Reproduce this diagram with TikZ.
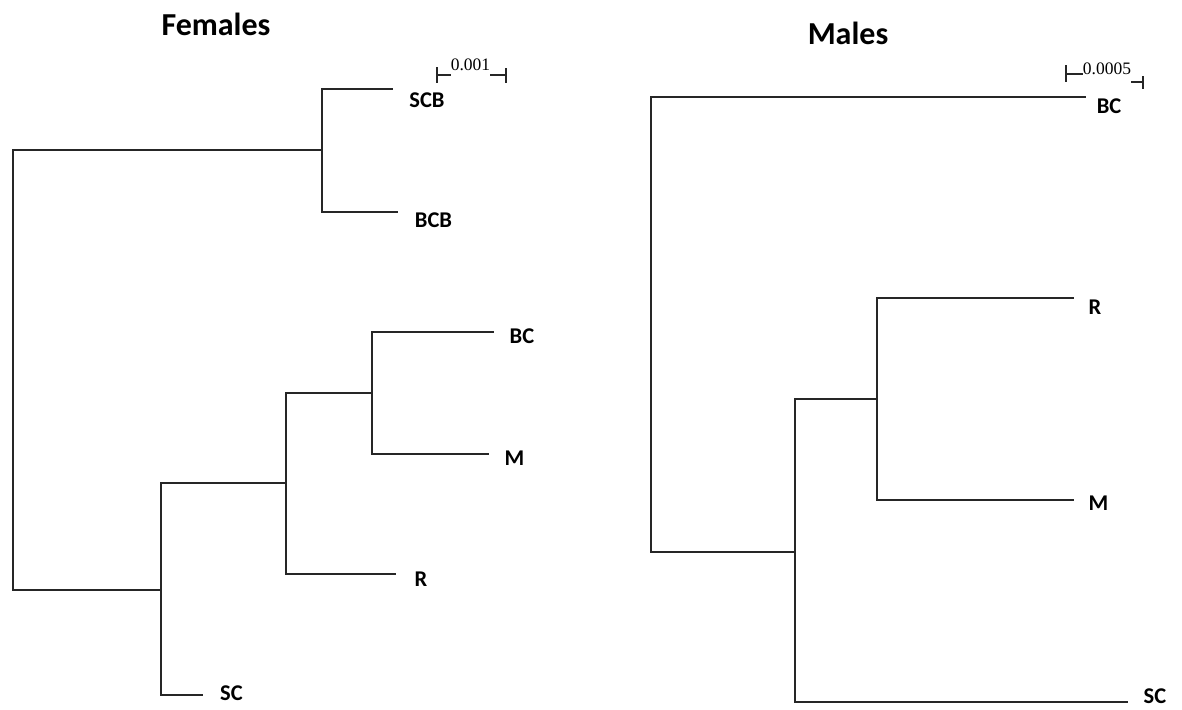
\documentclass[tikz,border=0pt]{standalone}
\usepackage{fontspec}
\setmainfont{Carlito}
\newfontfamily\barfont{Liberation Serif}
\tikzset{
  branch/.style={draw=black!85, line width=1.3pt, line cap=rect},
  tick/.style={draw=black!85, line width=1.1pt},
  leaf/.style={inner sep=0pt, font=\fontsize{22.5}{26}\selectfont\bfseries},
  heading/.style={inner sep=0pt, font=\fontsize{32}{38}\selectfont\bfseries},
  barlabel/.style={inner sep=0pt, anchor=base, font=\barfont\fontsize{17.5}{20}\selectfont},
}
\begin{document}
\begin{tikzpicture}[x=1pt, y=-1pt]
\useasboundingbox (0,0) rectangle (1182,709);

% ---------- Females ----------
\node[heading] (ftitle) at (216,24) {Females};

% scale bar
\node[barlabel] (fbar) at (470.5,70.5) {0.001};
\coordinate (fbarL) at (437,75);
\coordinate (fbarR) at (506,75);
\draw[tick] (437,67) -- (437,83);
\draw[tick] (fbarL) -- (fbar.west |- fbarL);
\draw[tick] (fbar.east |- fbarR) -- (fbarR);
\draw[tick] (506,68) -- (506,83);

% internal nodes
\coordinate (fr)  at (13,150);   % root (upper arm)
\coordinate (frb) at (13,590);   % root (lower arm)
\coordinate (f1)  at (322,150);
\coordinate (fA)  at (161,590);
\coordinate (fAt) at (161,483);
\coordinate (fB)  at (286,483);
\coordinate (fBt) at (286,393);
\coordinate (fC)  at (372,393);

% leaf ends
\coordinate (fSCBe) at (392,89);
\coordinate (fBCBe) at (397,212);
\coordinate (fBCe)  at (493,332);
\coordinate (fMe)   at (488,454);
\coordinate (fRe)   at (395,574);
\coordinate (fSCe)  at (202,695);

\node[leaf] (fSCB) at (427,100) {SCB};
\node[leaf] (fBCB) at (433.5,220) {BCB};
\node[leaf] (fBC)  at (522,336) {BC};
\node[leaf] (fM)   at (514.5,458) {M};
\node[leaf] (fR)   at (421,579) {R};
\node[leaf] (fSC)  at (231.5,693.5) {SC};

\draw[branch] (f1) -- (fr) -- (frb) -- (fA);
\draw[branch] (fSCBe) -| (f1) |- (fBCBe);
\draw[branch] (fAt) -- (fA |- fSCe) -- (fSCe);
\draw[branch] (fAt) -- (fB);
\draw[branch] (fBt) -- (fB |- fRe) -- (fRe);
\draw[branch] (fBt) -- (fC);
\draw[branch] (fBCe) -| (fC) |- (fMe);

% ---------- Males ----------
\node[heading] (mtitle) at (848,33) {Males};

% scale bar
\node[barlabel] (mbar) at (1107,74.5) {0.0005};
\coordinate (mbarL) at (1066,74);
\coordinate (mbarR) at (1143,82);
\draw[tick] (1066,65) -- (1066,82);
\draw[tick] (mbarL) -- (mbar.west |- mbarL);
\draw[tick] (mbar.east |- mbarR) -- (mbarR);
\draw[tick] (1143,76) -- (1143,89);

% internal nodes
\coordinate (mr)  at (651,552);
\coordinate (mD)  at (795,552);
\coordinate (mDt) at (795,399);
\coordinate (mE)  at (877,399);

% leaf ends
\coordinate (mBCe) at (1085,97);
\coordinate (mRe)  at (1073,298);
\coordinate (mMe)  at (1073,500);
\coordinate (mSCe) at (1127,702);

\node[leaf] (mBC) at (1109,106) {BC};
\node[leaf] (mR)  at (1095,307) {R};
\node[leaf] (mM)  at (1098.5,503.5) {M};
\node[leaf] (mSC) at (1155,696.5) {SC};

\draw[branch] (mBCe) -| (mr) -- (mD);
\draw[branch] (mDt) -- (mD |- mSCe) -- (mSCe);
\draw[branch] (mDt) -- (mE);
\draw[branch] (mRe) -| (mE) |- (mMe);
\end{tikzpicture}
\end{document}
